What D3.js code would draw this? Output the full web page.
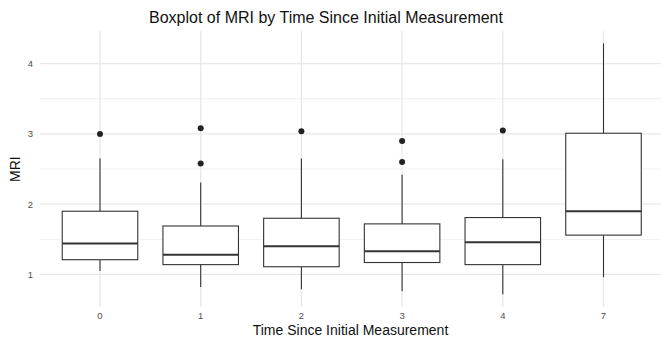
<!DOCTYPE html>
<html>
<head>
<meta charset="utf-8">
<script src="https://cdn.jsdelivr.net/npm/d3@7"></script>
<style>
  body { margin: 0; background: #fff; }
  svg { display: block; font-family: "Liberation Sans", Arial, sans-serif; }
</style>
</head>
<body>
<div id="chart"></div>
<script>
// Data
const groups = ["0", "1", "2", "3", "4", "7"];
const whiskerLow = [1.05, 0.82, 0.79, 0.76, 0.72, 0.96];
const q1 = [1.21, 1.14, 1.11, 1.17, 1.14, 1.56];
const median = [1.44, 1.28, 1.40, 1.33, 1.46, 1.90];
const q3 = [1.90, 1.69, 1.80, 1.72, 1.81, 3.01];
const whiskerHigh = [2.65, 2.31, 2.65, 2.42, 2.64, 4.29];
const outliers = [[3.00], [3.08, 2.58], [3.04], [2.90, 2.60], [3.05], []];
const yTicks = [1, 2, 3, 4];
const yMinor = [1.5, 2.5, 3.5];

const width = 661, height = 338;
const margin = { left: 40, right: 0, top: 31, bottom: 31 };
const panelBottom = height - margin.bottom;

const data = groups.map((g, i) => ({
    group: g,
    lo: whiskerLow[i], q1: q1[i], med: median[i], q3: q3[i], hi: whiskerHigh[i],
    out: outliers[i]
}));

const svg = d3.select("#chart").append("svg")
    .attr("width", width)
    .attr("height", height);

// Scales
const x = d3.scalePoint()
    .domain(groups)
    .range([100, 603.5]);
const step = x.step();
const boxW = step * 0.75;

const y = d3.scaleLinear()
    .domain([0.537, 4.465])
    .range([panelBottom, margin.top]);

// Gridlines
const grid = svg.append("g");
grid.selectAll(".minor")
    .data(yMinor)
    .enter()
    .append("line")
    .attr("x1", margin.left).attr("x2", width)
    .attr("y1", d => y(d)).attr("y2", d => y(d))
    .attr("stroke", "#f0f0f0")
    .attr("stroke-width", 1);
grid.selectAll(".major")
    .data(yTicks)
    .enter()
    .append("line")
    .attr("x1", margin.left).attr("x2", width)
    .attr("y1", d => y(d)).attr("y2", d => y(d))
    .attr("stroke", "#e8e8e8")
    .attr("stroke-width", 1.3);
grid.selectAll(".vmajor")
    .data(groups)
    .enter()
    .append("line")
    .attr("x1", d => x(d)).attr("x2", d => x(d))
    .attr("y1", margin.top).attr("y2", panelBottom)
    .attr("stroke", "#e8e8e8")
    .attr("stroke-width", 1.3);

// Boxes
const boxes = svg.append("g")
    .selectAll("g")
    .data(data)
    .enter()
    .append("g");

const stroke = "#333333";

boxes.append("line")
    .attr("x1", d => x(d.group)).attr("x2", d => x(d.group))
    .attr("y1", d => y(d.q3)).attr("y2", d => y(d.hi))
    .attr("stroke", stroke).attr("stroke-width", 1.1);
boxes.append("line")
    .attr("x1", d => x(d.group)).attr("x2", d => x(d.group))
    .attr("y1", d => y(d.q1)).attr("y2", d => y(d.lo))
    .attr("stroke", stroke).attr("stroke-width", 1.1);
boxes.append("rect")
    .attr("x", d => x(d.group) - boxW / 2)
    .attr("width", boxW)
    .attr("y", d => y(d.q3))
    .attr("height", d => y(d.q1) - y(d.q3))
    .attr("fill", "white")
    .attr("stroke", stroke)
    .attr("stroke-width", 1.1);
boxes.append("line")
    .attr("x1", d => x(d.group) - boxW / 2).attr("x2", d => x(d.group) + boxW / 2)
    .attr("y1", d => y(d.med)).attr("y2", d => y(d.med))
    .attr("stroke", stroke).attr("stroke-width", 2);
boxes.selectAll("circle")
    .data(d => d.out.map(v => ({ group: d.group, v })))
    .enter()
    .append("circle")
    .attr("cx", d => x(d.group))
    .attr("cy", d => y(d.v))
    .attr("r", 3)
    .attr("fill", "#222");

// Tick labels
svg.append("g")
    .selectAll("text")
    .data(yTicks)
    .enter()
    .append("text")
    .attr("x", 33)
    .attr("y", d => y(d))
    .attr("dy", "0.35em")
    .attr("text-anchor", "end")
    .attr("fill", "#4d4d4d")
    .style("font-size", "9.5px")
    .text(d => d);

svg.append("g")
    .selectAll("text")
    .data(groups)
    .enter()
    .append("text")
    .attr("x", d => x(d))
    .attr("y", panelBottom + 12)
    .attr("text-anchor", "middle")
    .attr("fill", "#4d4d4d")
    .style("font-size", "9.5px")
    .text(d => d);

// Axis titles
svg.append("text")
    .attr("x", (margin.left + width) / 2)
    .attr("y", 335)
    .attr("text-anchor", "middle")
    .attr("fill", "#111")
    .style("font-size", "14px")
    .text("Time Since Initial Measurement");

svg.append("text")
    .attr("transform", `translate(20, ${y(2.5)}) rotate(-90)`)
    .attr("text-anchor", "middle")
    .attr("fill", "#111")
    .style("font-size", "14px")
    .text("MRI");

svg.append("text")
    .attr("x", 326)
    .attr("y", 23)
    .attr("text-anchor", "middle")
    .attr("fill", "#111")
    .style("font-size", "16px")
    .text("Boxplot of MRI by Time Since Initial Measurement");
</script>
</body>
</html>
